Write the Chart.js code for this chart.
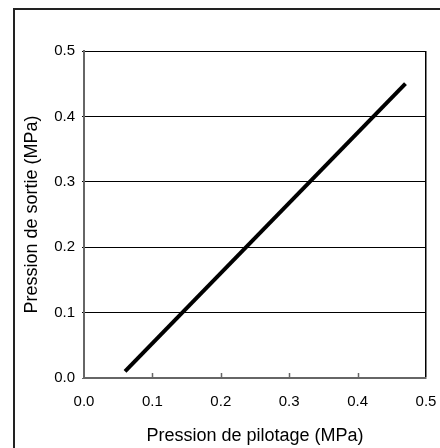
<!DOCTYPE html>
<html>
<head>
<meta charset="utf-8">
<script src="https://cdn.jsdelivr.net/npm/chart.js@4"></script>
<style>
  body { margin: 0; background: #fff; }
</style>
</head>
<body>
<canvas id="lineChart" width="440" height="448"></canvas>
<script>
// pression de pilotage (x) et pression de sortie (y), en MPa
const pilotage = [0.06, 0.47];
const sortie = [0.01, 0.45];
const xTickLabels = ['0.0', '0.1', '0.2', '0.3', '0.4', '0.5'];
const yTickLabels = ['0.0', '0.1', '0.2', '0.3', '0.4', '0.5'];

const ctx = document.getElementById('lineChart').getContext('2d');
const tickFont = { family: 'Liberation Sans', size: 15 };
const titleFont = { family: 'Liberation Sans', size: 18 };

// cadre extérieur + petites graduations vers l'intérieur sur l'axe x
const extras = {
  id: 'extras',
  beforeDraw(chart) {
    const c = chart.ctx;
    c.save();
    c.strokeStyle = '#222';
    c.lineWidth = 2;
    c.beginPath();
    c.moveTo(14, 448);
    c.lineTo(14, 9);
    c.lineTo(440, 9);
    c.stroke();
    c.restore();
  },
  afterDraw(chart) {
    const x = chart.scales.x;
    const bottom = chart.chartArea.bottom;
    const c = chart.ctx;
    c.save();
    c.strokeStyle = '#666';
    c.lineWidth = 1.5;
    for (let i = 1; i < xTickLabels.length - 1; i++) {
      const px = Math.round(x.getPixelForValue(parseFloat(xTickLabels[i]))) + 0.5;
      c.beginPath();
      c.moveTo(px, bottom);
      c.lineTo(px, bottom - 5);
      c.stroke();
    }
    c.restore();
  }
};

const data = pilotage.map((v, i) => ({ x: v, y: sortie[i] }));

new Chart(ctx, {
  type: 'scatter',
  data: {
    datasets: [{
      data: data,
      showLine: true,
      borderColor: '#000',
      borderWidth: 4,
      pointRadius: 0
    }]
  },
  plugins: [extras],
  options: {
    responsive: false,
    animation: false,
    layout: { padding: { left: 0, top: 51, right: 14, bottom: 0 } },
    plugins: { legend: { display: false }, tooltip: { enabled: false } },
    scales: {
      x: {
        type: 'linear',
        min: 0, max: 0.5,
        afterFit: s => { s.height = 70; s.paddingLeft = 0; s.paddingRight = 0; },
        ticks: {
          stepSize: 0.1,
          padding: 15,
          maxRotation: 0,
          color: '#000',
          font: tickFont,
          callback: (v, i) => xTickLabels[i]
        },
        grid: {
          drawTicks: false,
          color: c => c.index === xTickLabels.length - 1 ? '#000' : 'rgba(0,0,0,0)',
          lineWidth: 1.5
        },
        border: { color: '#666', width: 2 },
        title: {
          display: true,
          text: 'Pression de pilotage (MPa)',
          color: '#000',
          font: titleFont,
          padding: { top: 0, bottom: 1 }
        }
      },
      y: {
        type: 'linear',
        min: 0, max: 0.5,
        afterFit: s => { s.width = 84; s.paddingTop = 0; s.paddingBottom = 0; },
        ticks: {
          stepSize: 0.1,
          padding: 7,
          color: '#000',
          font: tickFont,
          callback: (v, i) => yTickLabels[i]
        },
        grid: {
          tickLength: 2,
          color: c => c.index === 0 ? '#666' : '#000',
          lineWidth: 1
        },
        border: { color: '#666', width: 2 },
        title: {
          display: true,
          text: 'Pression de sortie (MPa)',
          color: '#000',
          font: titleFont,
          padding: { top: 21, bottom: 0 }
        }
      }
    }
  }
});
</script>
</body>
</html>
